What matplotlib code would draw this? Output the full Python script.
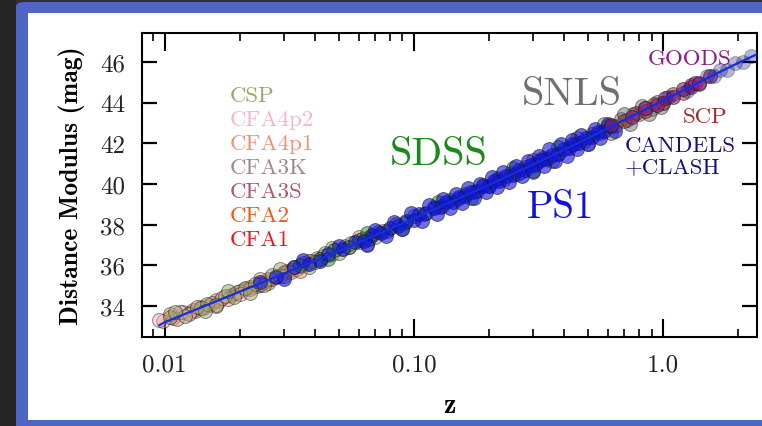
import matplotlib
matplotlib.use("Agg")
import matplotlib.pyplot as plt
from matplotlib.patches import FancyBboxPatch, Rectangle
from matplotlib.ticker import FixedLocator, FixedFormatter, LogLocator, NullFormatter

plt.rcParams['font.family'] = ['cmr10', 'DejaVu Serif']
plt.rcParams['axes.unicode_minus'] = False

# --- data (redshift z, distance modulus mu) ---
csp_z = [0.0105, 0.012, 0.0135, 0.0148, 0.016, 0.0175, 0.019, 0.021, 0.023, 0.025,
         0.027, 0.03, 0.033, 0.036, 0.04, 0.044, 0.05, 0.056, 0.062, 0.07,
         0.011, 0.0145, 0.018, 0.022, 0.029, 0.038, 0.047, 0.065]
csp_mu = [33.45, 33.5, 33.95, 34.1, 34.05, 34.5, 34.45, 34.9, 35.1, 35.05,
          35.5, 35.45, 35.9, 36.1, 36.15, 36.6, 36.6, 37.1, 37.3, 37.4,
          33.7, 33.75, 34.75, 34.65, 35.8, 35.9, 36.85, 37.05]

cfa4p2_z = [0.0095, 0.0115, 0.0125, 0.014, 0.017, 0.02, 0.024, 0.029, 0.035, 0.045]
cfa4p2_mu = [33.3, 33.7, 33.6, 33.9, 34.4, 34.6, 35.1, 35.45, 35.95, 36.5]

cfa4p1_z = [0.0098, 0.0112, 0.013, 0.0155, 0.018, 0.0195, 0.022, 0.026, 0.028, 0.032,
            0.038, 0.042, 0.048, 0.055, 0.065, 0.075,
            0.0105, 0.016, 0.024, 0.035, 0.06]
cfa4p1_mu = [33.25, 33.35, 33.8, 34.15, 34.35, 34.7, 34.85, 35.3, 35.45, 35.65,
             36.2, 36.3, 36.75, 36.9, 37.35, 37.7,
             33.6, 34.0, 35.3, 35.7, 37.4]

cfa3k_z = [0.0118, 0.0142, 0.016, 0.02, 0.0235, 0.027, 0.031, 0.034, 0.041, 0.047, 0.053, 0.06]
cfa3k_mu = [33.7, 33.9, 34.3, 34.75, 35.0, 35.3, 35.7, 35.8, 36.35, 36.55, 36.95, 37.15]

cfa3s_z = [0.0108, 0.0132, 0.015, 0.0185, 0.022, 0.025, 0.03, 0.037, 0.043, 0.051]
cfa3s_mu = [33.4, 33.75, 34.05, 34.55, 34.95, 35.2, 35.6, 36.05, 36.45, 36.8]

cfa2_z = [0.0125, 0.0165, 0.021, 0.026, 0.032, 0.039]
cfa2_mu = [33.65, 34.25, 34.85, 35.15, 35.75, 36.2]

cfa1_z = [0.014, 0.019, 0.024, 0.03]
cfa1_mu = [33.95, 34.6, 35.05, 35.65]

sdss_z = [0.035, 0.042, 0.048, 0.055, 0.06, 0.066, 0.072, 0.078, 0.085, 0.092,
          0.1, 0.11, 0.12, 0.13, 0.14, 0.15, 0.16, 0.175, 0.19, 0.2,
          0.215, 0.23, 0.245, 0.26, 0.28, 0.3, 0.32, 0.35,
          0.045, 0.065, 0.09, 0.125, 0.17, 0.25, 0.3, 0.38]
sdss_mu = [36.0, 36.3, 36.75, 36.9, 37.25, 37.3, 37.65, 37.7, 38.05, 38.1,
           38.4, 38.5, 38.85, 38.9, 39.2, 39.25, 39.5, 39.6, 39.95, 39.9,
           40.25, 40.25, 40.55, 40.5, 40.85, 40.9, 41.2, 41.3,
           36.3, 37.6, 37.8, 39.1, 39.3, 40.8, 40.6, 41.8]

snls_z = [0.22, 0.27, 0.33, 0.38, 0.43, 0.48, 0.52, 0.56, 0.6, 0.64,
          0.68, 0.72, 0.76, 0.8, 0.85, 0.9, 0.95, 1.0,
          0.3, 0.36, 0.45, 0.5, 0.58, 0.62, 0.7, 0.74, 0.82, 0.88, 0.98]
snls_mu = [40.3, 40.6, 41.3, 41.5, 41.95, 42.1, 42.45, 42.5, 42.85, 42.85,
           43.2, 43.15, 43.45, 43.45, 43.75, 43.7, 44.05, 44.0,
           41.2, 41.15, 42.25, 41.95, 42.95, 42.5, 43.45, 42.95, 43.85, 43.45, 43.8]

ps1_z = [0.024, 0.028, 0.033, 0.038, 0.045, 0.052, 0.058, 0.063, 0.068, 0.074,
         0.08, 0.086, 0.093, 0.1, 0.105, 0.112, 0.12, 0.127, 0.135, 0.143,
         0.152, 0.16, 0.17, 0.18, 0.19, 0.2, 0.21, 0.22, 0.235, 0.25,
         0.265, 0.28, 0.295, 0.31, 0.325, 0.34, 0.36, 0.38, 0.4, 0.42,
         0.44, 0.46, 0.49, 0.52, 0.55, 0.58, 0.62,
         0.03, 0.036, 0.042, 0.05,
         0.065, 0.07, 0.077, 0.083, 0.09, 0.097, 0.108, 0.115, 0.124, 0.131,
         0.14, 0.148, 0.156, 0.165, 0.175, 0.185, 0.195, 0.205, 0.215, 0.228,
         0.242, 0.258, 0.272, 0.288, 0.302, 0.318, 0.333, 0.35, 0.37, 0.39,
         0.41, 0.43, 0.45, 0.47, 0.5, 0.535, 0.56, 0.6, 0.64]
ps1_mu = [35.2, 35.4, 35.9, 36.05, 36.55, 36.8, 37.15, 37.2, 37.5, 37.6,
          37.85, 37.95, 38.2, 38.25, 38.5, 38.55, 38.8, 38.85, 39.1, 39.1,
          39.35, 39.4, 39.6, 39.65, 39.9, 39.9, 40.15, 40.15, 40.4, 40.45,
          40.7, 40.7, 40.95, 41.0, 41.2, 41.25, 41.45, 41.5, 41.7, 41.75,
          41.95, 42.0, 42.25, 42.3, 42.55, 42.6, 42.85,
          35.3, 36.25, 36.2, 36.95,
          37.0, 37.75, 37.45, 38.15, 37.8, 38.55, 38.2, 38.95, 38.5, 39.25,
          38.8, 39.5, 39.05, 39.8, 39.3, 40.0, 39.6, 40.35, 39.85, 40.6,
          40.1, 40.9, 40.4, 41.15, 40.65, 41.4, 40.9, 41.7, 41.15, 41.95,
          41.4, 42.15, 41.7, 42.4, 41.95, 42.7, 42.25, 42.95, 42.6]

scp_z = [0.62, 0.7, 0.78, 0.85, 0.92, 1.0, 1.1, 1.2, 1.3, 1.4]
scp_mu = [42.9, 43.1, 43.5, 43.6, 43.95, 44.0, 44.45, 44.5, 44.85, 44.9]

goods_z = [0.75, 0.85, 0.95, 1.02, 1.1, 1.2, 1.3, 1.35, 1.4, 1.55]
goods_mu = [43.3, 43.75, 43.9, 44.25, 44.3, 44.65, 44.75, 44.95, 44.95, 45.3]

candels_z = [1.05, 1.25, 1.5, 1.6, 1.7, 1.8, 1.95, 2.1, 2.25]
candels_mu = [44.3, 44.6, 45.3, 45.3, 45.6, 45.6, 45.95, 46.0, 46.3]

# model curve
model_z = [0.0095, 0.01, 0.02, 0.05, 0.1, 0.2, 0.3, 0.5, 0.7, 1.0, 1.5, 2.0, 2.4]
model_mu = [33.05, 33.2, 34.7, 36.7, 38.3, 39.95, 40.95, 42.25, 43.15, 44.1, 45.2, 45.95, 46.4]

xtick_vals = [0.01, 0.1, 1.0]
xtick_labels = ['0.01', '0.10', '1.0']
ytick_vals = [34, 36, 38, 40, 42, 44, 46]

# --- figure with slide-like frame ---
fig = plt.figure(figsize=(7.62, 4.27), dpi=100, facecolor='#323232')
fig.patches.append(Rectangle((0, 0), 16 / 762, 1, transform=fig.transFigure,
                             facecolor='#262626', edgecolor='none', zorder=-10))
fig.patches.append(FancyBboxPatch((16 / 762, -0.05), 1.0, 1.043,
                                  boxstyle='round,pad=0,rounding_size=0.012',
                                  transform=fig.transFigure, facecolor='#4f66c6',
                                  edgecolor='none', zorder=-9))
fig.patches.append(Rectangle((28 / 762, 6 / 427), 1.0, 407 / 427, transform=fig.transFigure,
                             facecolor='white', edgecolor='none', zorder=-8))

ax = fig.add_axes([142 / 762, 89 / 427, 615 / 762, 304 / 427])
ax.set_facecolor('none')

marker_kw = dict(s=100, edgecolors='#1a1a1a', linewidths=0.7, zorder=3)
ax.scatter(cfa1_z, cfa1_mu, c='#ee1122', alpha=0.45, **marker_kw)
ax.scatter(cfa2_z, cfa2_mu, c='#f05a10', alpha=0.45, **marker_kw)
ax.scatter(cfa3s_z, cfa3s_mu, c='#b05868', alpha=0.45, **marker_kw)
ax.scatter(cfa3k_z, cfa3k_mu, c='#a08890', alpha=0.45, **marker_kw)
ax.scatter(cfa4p1_z, cfa4p1_mu, c='#f0907a', alpha=0.5, **marker_kw)
ax.scatter(cfa4p2_z, cfa4p2_mu, c='#f5b5c5', alpha=0.5, **marker_kw)
ax.scatter(csp_z, csp_mu, c='#9da56b', alpha=0.5, **marker_kw)
ax.scatter(sdss_z, sdss_mu, c='#1a8a1a', alpha=0.5, **marker_kw)
ax.scatter(snls_z, snls_mu, c='#707070', alpha=0.5, **marker_kw)
ax.scatter(ps1_z, ps1_mu, c='#1010e0', alpha=0.6, **marker_kw)
ax.scatter(scp_z, scp_mu, c='#a02828', alpha=0.5, **marker_kw)
ax.scatter(goods_z, goods_mu, c='#8b1a8b', alpha=0.6, **marker_kw)
ax.scatter(candels_z, candels_mu, c='#101080', alpha=0.3, **marker_kw)
ax.plot(model_z, model_mu, color='#1030e0', lw=1.6, zorder=4)

ax.set_xscale('log')
ax.set_xlim(0.0081, 2.385)
ax.set_ylim(32.47, 47.43)

ax.xaxis.set_major_locator(FixedLocator(xtick_vals))
ax.xaxis.set_major_formatter(FixedFormatter(xtick_labels))
ax.xaxis.set_minor_locator(LogLocator(base=10, subs=[2, 3, 4, 5, 6, 7, 8, 9]))
ax.xaxis.set_minor_formatter(NullFormatter())
ax.yaxis.set_major_locator(FixedLocator(ytick_vals))

for sp in ax.spines.values():
    sp.set_linewidth(1.5)
ax.tick_params(axis='both', which='both', direction='in', top=True, right=True,
               colors='black', labelcolor='#222222')
ax.tick_params(axis='x', which='major', length=13, width=1.5, labelsize=18, pad=12)
ax.tick_params(axis='x', which='minor', length=6, width=1.2)
ax.tick_params(axis='y', which='major', length=11, width=1.6, labelsize=18, pad=12)

ax.set_xlabel('z', fontfamily='cmb10', fontsize=20, labelpad=12)
ax.set_ylabel('Distance Modulus (mag)', fontfamily='cmb10', fontsize=18.5, labelpad=11)


def px(x, y):
    return ((x - 142) / 615, (338 - y) / 304)


small_labels = ['CSP', 'CFA4p2', 'CFA4p1', 'CFA3K', 'CFA3S', 'CFA2', 'CFA1']
small_colors = ['#9da56b', '#f5b5c5', '#f0907a', '#a08890', '#b05868', '#f05a10', '#ee1122']
for i, (lab, col) in enumerate(zip(small_labels, small_colors)):
    ax.text(*px(230, 102 + 24 * i), lab, transform=ax.transAxes, color=col,
            fontsize=16.5, va='baseline', ha='left')

ax.text(*px(390, 165), 'SDSS', transform=ax.transAxes, color='#1a8a1a', fontsize=29, va='baseline')
ax.text(*px(527, 218), 'PS1', transform=ax.transAxes, color='#1010e0', fontsize=28, va='baseline')
ax.text(*px(522, 105), 'SNLS', transform=ax.transAxes, color='#707070', fontsize=29, va='baseline')
ax.text(*px(648, 65), 'GOODS', transform=ax.transAxes, color='#8b1a8b', fontsize=16.5, va='baseline')
ax.text(*px(683, 123), 'SCP', transform=ax.transAxes, color='#a02828', fontsize=16.5, va='baseline')
ax.text(*px(625, 152), 'CANDELS', transform=ax.transAxes, color='#101080', fontsize=16.5, va='baseline')
ax.text(*px(625, 173), '+CLASH', transform=ax.transAxes, color='#101080', fontsize=16.5, va='baseline')

fig.savefig('out.png', dpi=100, facecolor=fig.get_facecolor())
